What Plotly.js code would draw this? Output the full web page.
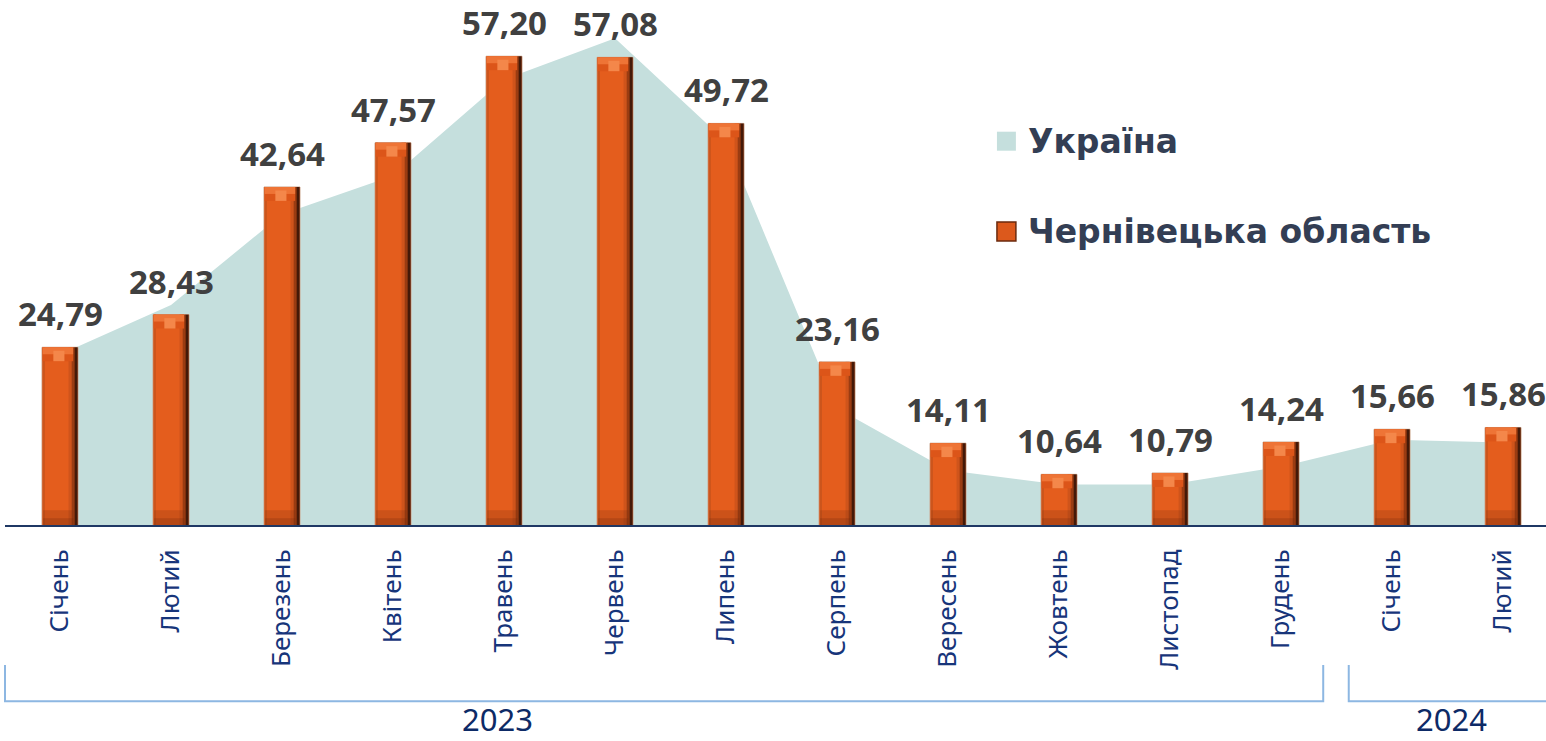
<!DOCTYPE html>
<html>
<head>
<meta charset="utf-8">
<script src="https://cdn.plot.ly/plotly-3.0.1.min.js"></script>
<style>
  html, body { margin: 0; padding: 0; background: #ffffff; }
  #chart { width: 1546px; height: 741px; }
</style>
</head>
<body>
<div id="chart"></div>
<script>
// ---------------- DATA ----------------
const months = ['Січень', 'Лютий', 'Березень', 'Квітень', 'Травень', 'Червень', 'Липень',
                'Серпень', 'Вересень', 'Жовтень', 'Листопад', 'Грудень', 'Січень', 'Лютий'];
const chernivtsi = [24.79, 28.43, 42.64, 47.57, 57.20, 57.08, 49.72, 23.16, 14.11, 10.64, 10.79, 14.24, 15.66, 15.86];
const ukraine = [24.0, 29.5, 39.6, 43.9, 54.6, 59.2, 47.7, 18.0, 11.1, 9.5, 9.5, 11.5, 14.5, 14.2];
const seriesNames = ['Україна', 'Чернівецька область'];
const years = ['2023', '2024'];
const yearCount = [12, 2];

// ---------------- STYLE / GEOMETRY ----------------
const X_RANGE = [-0.4955, 13.387];
const Y_RANGE = [5, 62.35];
const W = 0.324;          // bar width (category units)
const CAP = 1.55;         // top bevel height (value units)
const BOT = 1.65;         // bottom bevel height
const x = months.map((_, i) => i);
const labels = chernivtsi.map(v => v.toFixed(2).replace('.', ','));

function bar(y, opts) {
  return Object.assign({
    type: 'bar', x: x, y: y, xaxis: 'x2', yaxis: 'y2',
    showlegend: false, hoverinfo: 'skip', cliponaxis: true
  }, opts);
}

const traces = [];
// Ukraine area (base subplot, drawn beneath bars)
traces.push({
  type: 'scatter', mode: 'none', x: x, y: ukraine, fill: 'tozeroy',
  fillcolor: '#c5dfdd', name: seriesNames[0], showlegend: false, hoverinfo: 'skip',
  xaxis: 'x', yaxis: 'y'
});
// Chernivtsi bars (overlay subplot, drawn above area)
traces.push(bar(chernivtsi, {name: seriesNames[1], width: W, offset: -W / 2,
  marker: {color: '#e45d1d', line: {color: '#caa48c', width: 1}}}));
traces.push(bar(chernivtsi, {width: 0.022, offset: -W / 2 + 0.004,
  marker: {color: '#cc551c', line: {width: 0}}}));
traces.push(bar(chernivtsi, {width: 0.03, offset: W / 2 - 0.085,
  marker: {color: '#cf541b', line: {width: 0}}}));
traces.push(bar(chernivtsi, {width: 0.03, offset: W / 2 - 0.057,
  marker: {color: '#9a3c12', line: {width: 0}}}));
traces.push(bar(chernivtsi, {width: 0.027, offset: W / 2 - 0.03,
  marker: {color: '#441908', line: {width: 0}}}));
// top bevel
traces.push(bar(chernivtsi.map(() => CAP), {base: chernivtsi.map(v => v - CAP),
  width: W - 0.05, offset: -W / 2 + 0.006,
  marker: {color: '#dc5519', line: {width: 0}}}));
traces.push(bar(chernivtsi.map(() => CAP * 0.5), {base: chernivtsi.map(v => v - CAP * 0.5),
  width: W - 0.05, offset: -W / 2 + 0.006,
  marker: {color: '#ee7436', line: {width: 0}}}));
traces.push(bar(chernivtsi.map(() => CAP * 0.75), {base: chernivtsi.map(v => v - CAP),
  width: 0.1, offset: -0.06,
  marker: {color: '#f4874a', line: {width: 0}}}));
// bottom bevel
traces.push(bar(chernivtsi.map(() => Y_RANGE[0] + BOT), {base: chernivtsi.map(() => 0),
  width: W - 0.05, offset: -W / 2 + 0.01,
  marker: {color: 'rgba(120,45,12,0.22)', line: {width: 0}}}));
traces.push(bar(chernivtsi.map(() => Y_RANGE[0] + BOT * 0.45), {base: chernivtsi.map(() => 0),
  width: W - 0.05, offset: -W / 2 + 0.01,
  marker: {color: 'rgba(110,40,10,0.25)', line: {width: 0}}}));

// ---------------- ANNOTATIONS & SHAPES ----------------
const span = X_RANGE[1] - X_RANGE[0];
const pX = c => (c - X_RANGE[0]) / span;      // category -> paper x

const annotations = chernivtsi.map((v, i) => ({
  x: i, y: v, xref: 'x', yref: 'y', text: labels[i], showarrow: false,
  yanchor: 'bottom', xanchor: 'center', yshift: 9,
  font: {family: 'Open Sans', size: 33, color: '#404040', weight: 'bold'}
}));

const shapes = [];
// year brackets
const BR_TOP = -0.272, BR_BOT = -0.342;
const bracketColor = '#8db7e2';
let start = 0;
const yearCenters = [3.94, 12.54];
yearCount.forEach((n, k) => {
  const x0 = k === 0 ? 0 : pX(start - 0.39);
  const x1 = k === yearCount.length - 1 ? 1 : pX(start + n - 1 + 0.38);
  shapes.push({type: 'path', xref: 'paper', yref: 'paper',
    path: `M ${x0} ${BR_TOP} L ${x0} ${BR_BOT} L ${x1} ${BR_BOT}` + (k === yearCount.length - 1 ? '' : ` L ${x1} ${BR_TOP}`),
    line: {color: bracketColor, width: 2}});
  annotations.push({x: pX(yearCenters[k]), y: -0.3767, xref: 'paper', yref: 'paper',
    text: years[k], showarrow: false, xanchor: 'center', yanchor: 'middle',
    font: {family: 'Noto Sans', size: 31, color: '#0d2a66'}});
  start += n;
});

// custom legend
const legendFont = {family: 'DejaVu Sans', size: 33, color: '#333e54', weight: 'bold'};
shapes.push({type: 'rect', xref: 'paper', yref: 'paper', x0: 0.6437, x1: 0.656, y0: 0.7268, y1: 0.7637,
  fillcolor: '#c5dfdd', line: {width: 0}});
shapes.push({type: 'rect', xref: 'paper', yref: 'paper', x0: 0.6437, x1: 0.656, y0: 0.5515, y1: 0.5883,
  fillcolor: '#dc591c', line: {color: '#6b2a0e', width: 1.5}});
annotations.push({x: 0.6625, y: 0.745, xref: 'paper', yref: 'paper', text: seriesNames[0],
  showarrow: false, xanchor: 'left', yanchor: 'middle', font: legendFont});
annotations.push({x: 0.6625, y: 0.569, xref: 'paper', yref: 'paper', text: seriesNames[1],
  showarrow: false, xanchor: 'left', yanchor: 'middle', font: legendFont});

const layout = {
  width: 1546, height: 741,
  margin: {l: 5, r: 0, t: 10, b: 216},
  paper_bgcolor: '#ffffff', plot_bgcolor: 'rgba(0,0,0,0)',
  showlegend: false,
  barmode: 'overlay',
  xaxis: {
    range: X_RANGE, tickmode: 'array', tickvals: x, ticktext: months,
    tickangle: -90, ticks: '', ticklabelstandoff: 12,
    tickfont: {family: 'Noto Sans', size: 26, color: '#17357a'},
    showline: true, linecolor: '#1f3864', linewidth: 2,
    showgrid: false, zeroline: false, fixedrange: true
  },
  yaxis: {range: Y_RANGE, visible: false, showgrid: false, zeroline: false, fixedrange: true},
  xaxis2: {range: X_RANGE, overlaying: 'x', visible: false, fixedrange: true},
  yaxis2: {range: Y_RANGE, overlaying: 'y', visible: false, fixedrange: true},
  annotations: annotations,
  shapes: shapes
};

Plotly.newPlot('chart', traces, layout, {displayModeBar: false, staticPlot: true});
</script>
</body>
</html>
